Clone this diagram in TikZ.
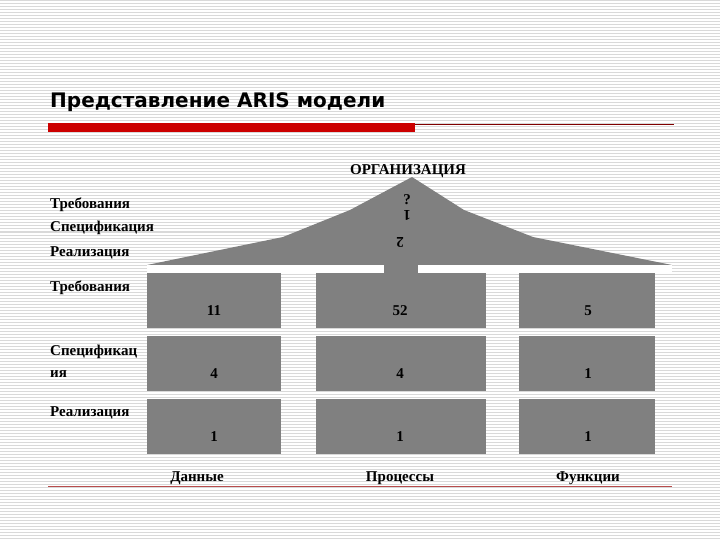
\documentclass[tikz,border=0pt]{standalone}
\usepackage{fontspec}
\setmainfont{Liberation Serif}
\newfontfamily\titlefont{DejaVu Sans}
\begin{document}
\begin{tikzpicture}[x=1pt,y=-1pt,
  num/.style={font=\bfseries\fontsize{15}{17}\selectfont},
  lbl/.style={font=\bfseries\fontsize{15}{17}\selectfont,anchor=west,inner sep=0pt,align=left}]
\useasboundingbox (0,0) rectangle (720,540);
\fill[white] (0,0) rectangle (720,540);
\foreach \y in {1,4,...,540} \draw[gray!30,line width=1pt] (0,\y) -- (720,\y);
% title
\node[anchor=west,inner sep=0pt,font=\titlefont\bfseries\fontsize{20}{24}\selectfont] (title) at (50,102) {Представление ARIS модели};
\fill[red!80!black] (48,123) rectangle (415,132);
\coordinate (ls) at (415,124); \coordinate (le) at (674,124);
\draw[red!50!black,line width=0.8pt] (ls) -- (le);
% roof
\fill[black!50] (147,265) -- (283,237) -- (350,210) -- (412,177) -- (464,210) -- (533,237) -- (672,265) -- cycle;
\fill[white] (147,265) rectangle (672,273);
\fill[black!50] (384,262) rectangle (418,276);
\node[num] (org) at (408,171) {ОРГАНИЗАЦИЯ};
\node[num,inner sep=0pt] (q) at (407,200) {?};
\node[num,rotate=180,inner sep=0pt] (one) at (407,215) {1};
\node[num,rotate=180] (two) at (400,242) {2};
% cells
\foreach \x/\w [count=\c] in {147/281,316/486,519/655}
  \foreach \ya/\yb [count=\r] in {273/328,336/391,399/454}
    \fill[black!50] (\x,\ya) rectangle (\w,\yb);
\foreach \x/\a/\b/\cc [count=\i] in {214/11/4/1,400/52/4/1,588/5/1/1}{
  \node[num] (n1\i) at (\x,311) {\a};
  \node[num] (n2\i) at (\x,374) {\b};
  \node[num] (n3\i) at (\x,437) {\cc};}
% left labels
\node[lbl] (l1) at (50,205) {Требования};
\node[lbl] (l2) at (50,228) {Спецификация};
\node[lbl] (l3) at (50,253) {Реализация};
\node[lbl] (l4) at (50,288) {Требования};
\node[lbl,font=\bfseries\fontsize{15}{22}\selectfont] (l5) at (50,361) {Спецификац\\ия};
\node[lbl] (l6) at (50,413) {Реализация};
% bottom labels
\node[num] (d) at (197,478) {Данные};
\node[num] (p) at (400,478) {Процессы};
\node[num] (f) at (588,478) {Функции};
\coordinate (bs) at (48,486); \coordinate (be) at (672,486);
\draw[red!60!black!70,line width=0.7pt] (bs) -- (be);
\end{tikzpicture}
\end{document}
